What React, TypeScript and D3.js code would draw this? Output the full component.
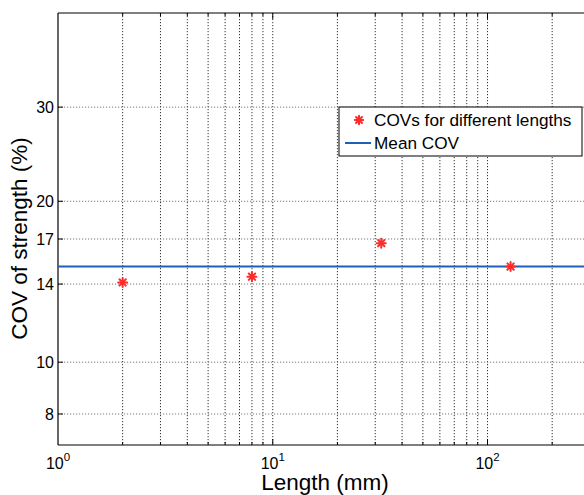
import React from "react";
import * as d3 from "d3";

const lengths = [2, 8, 32, 128];
const covValues = [14.1, 14.45, 16.7, 15.1];
const meanCOV = 15.1;
const yTicks = [8, 10, 14, 17, 20, 30];
const xDecades = [1, 10, 100];
const xDomain: [number, number] = [1, 300];
const yDomain: [number, number] = [7, 45];
const legendLabels = ["COVs for different lengths", "Mean COV"];
const xLabel = "Length (mm)";
const yLabel = "COV of strength (%)";

const W = 584;
const H = 495;
const M = { left: 58, top: 13, right: 590, bottom: 445 };
const FONT = "'Liberation Sans', Arial, Helvetica, sans-serif";

function Star({ cx, cy, r, color }: { cx: number; cy: number; r: number; color: string }) {
  const d = r * Math.SQRT1_2;
  return (
    <g stroke={color} strokeWidth={2} strokeLinecap="round">
      <line x1={cx - r} y1={cy} x2={cx + r} y2={cy} />
      <line x1={cx} y1={cy - r} x2={cx} y2={cy + r} />
      <line x1={cx - d} y1={cy - d} x2={cx + d} y2={cy + d} />
      <line x1={cx - d} y1={cy + d} x2={cx + d} y2={cy - d} />
    </g>
  );
}

export default function App() {
  const x = d3.scaleLog().domain(xDomain).range([M.left, M.right]);
  const y = d3.scaleLog().domain(yDomain).range([M.bottom, M.top]);

  const minorX: number[] = [];
  for (const dec of xDecades) {
    for (let k = 1; k <= 9; k++) {
      const v = dec * k;
      if (v > xDomain[0] && v <= xDomain[1]) minorX.push(v);
    }
  }

  const red = "#ff2a2a";
  const blue = "#1f5fb8";

  return (
    <svg
      width={W}
      height={H}
      style={{ position: "absolute", left: 0, top: 0, display: "block", background: "#fff" }}
      fontFamily={FONT}
    >
      <rect x={0} y={0} width={W} height={H} fill="#fff" />
      {minorX.map((v) => (
        <line
          key={"gx" + v}
          x1={x(v)}
          x2={x(v)}
          y1={M.top}
          y2={M.bottom}
          stroke="#333"
          strokeWidth={1}
          strokeDasharray="1.2,1.8"
        />
      ))}
      {yTicks.map((v) => (
        <line
          key={"gy" + v}
          x1={M.left}
          x2={M.right}
          y1={y(v)}
          y2={y(v)}
          stroke="#777"
          strokeWidth={1}
          strokeDasharray="1.2,1.8"
        />
      ))}
      {minorX.map((v) => {
        const major = xDecades.includes(v);
        const len = major ? 6 : 3;
        return (
          <g key={"tx" + v} stroke="#000" strokeWidth={1}>
            <line x1={x(v)} x2={x(v)} y1={M.bottom} y2={M.bottom - len} />
            <line x1={x(v)} x2={x(v)} y1={M.top} y2={M.top + len} />
          </g>
        );
      })}
      {yTicks.map((v) => (
        <line key={"ty" + v} x1={M.left} x2={M.left + 5} y1={y(v)} y2={y(v)} stroke="#000" strokeWidth={1} />
      ))}
      <line x1={M.left} x2={M.right} y1={M.top} y2={M.top} stroke="#000" strokeWidth={1.2} />
      <line x1={M.left} x2={M.right} y1={M.bottom} y2={M.bottom} stroke="#000" strokeWidth={1.2} />
      <line x1={M.left} x2={M.left} y1={M.top} y2={M.bottom} stroke="#000" strokeWidth={1.2} />
      <line x1={M.right} x2={M.right} y1={M.top} y2={M.bottom} stroke="#000" strokeWidth={1.2} />

      {yTicks.map((v) => (
        <text
          key={"ly" + v}
          x={M.left - 4}
          y={y(v)}
          dy="0.36em"
          textAnchor="end"
          fontSize={16}
          fill="#000"
        >
          {v}
        </text>
      ))}
      {xDecades.map((v) => (
        <text key={"lx" + v} x={x(v)} y={468.5} textAnchor="middle" fontSize={16} fill="#000">
          10
          <tspan dy={-8} fontSize={11.5}>
            {Math.round(Math.log10(v))}
          </tspan>
        </text>
      ))}

      <line
        x1={M.left}
        x2={M.right}
        y1={y(meanCOV)}
        y2={y(meanCOV)}
        stroke={blue}
        strokeWidth={2}
      />
      {lengths.map((L, i) => (
        <Star key={"p" + i} cx={x(L)} cy={y(covValues[i])} r={4.5} color={red} />
      ))}

      <text x={325} y={490} textAnchor="middle" fontSize={22.5} fill="#000">
        {xLabel}
      </text>
      <text
        transform={`translate(27,${238.5}) rotate(-90)`}
        textAnchor="middle"
        fontSize={22.5}
        fill="#000"
      >
        {yLabel}
      </text>

      <g>
        <rect x={339} y={107} width={243} height={49} fill="#fff" stroke="#000" strokeWidth={1} />
        <Star cx={359} cy={120} r={4.2} color={red} />
        <text x={374} y={126} fontSize={17.2} fill="#000">
          {legendLabels[0]}
        </text>
        <line x1={345} x2={371} y1={143} y2={143} stroke={blue} strokeWidth={2} />
        <text x={374} y={149} fontSize={17.2} fill="#000">
          {legendLabels[1]}
        </text>
      </g>
    </svg>
  );
}
